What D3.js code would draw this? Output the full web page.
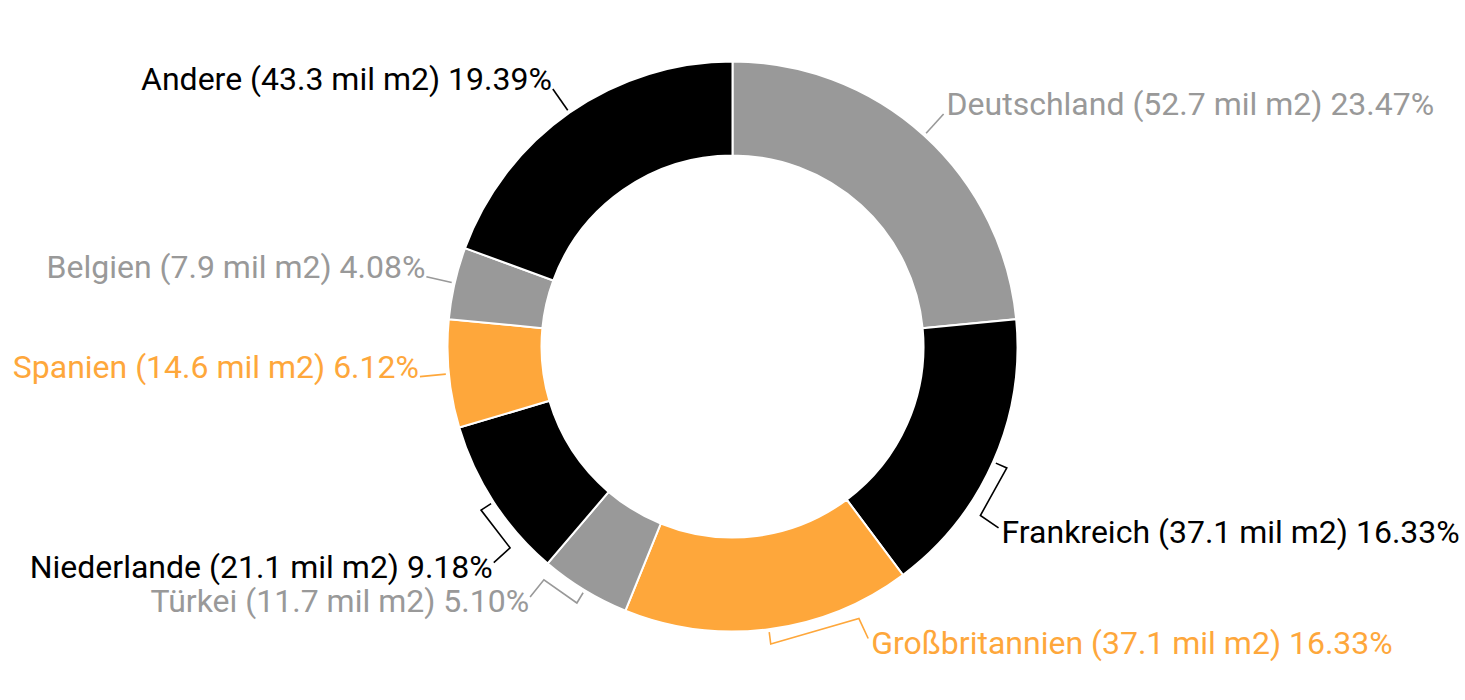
<!DOCTYPE html>
<html>
<head>
<meta charset="utf-8">
<script src="https://cdn.jsdelivr.net/npm/d3@7"></script>
<style>
  html, body { margin: 0; padding: 0; background: #ffffff; }
  svg { display: block; }
  text { font-family: Roboto, "Noto Sans", sans-serif; }
</style>
</head>
<body>
<svg id="chart" width="1465" height="700"></svg>
<script>
// ---- data ----
const categories = ["Deutschland", "Frankreich", "Großbritannien", "Türkei", "Niederlande", "Spanien", "Belgien", "Andere"];
const areaMilM2 = [52.7, 37.1, 37.1, 11.7, 21.1, 14.6, 7.9, 43.3];
const percents = [23.47, 16.33, 16.33, 5.10, 9.18, 6.12, 4.08, 19.39];

// ---- styles / layout (not data) ----
const palette = ["#999999", "#000000", "#FEA73B", "#999999", "#000000", "#FEA73B", "#999999", "#000000"];
const labelShiftDeg = [0, 10.4, -17.6, 7.7, -9.1, 0, 0, 0]; // label displacement to avoid overlap
const W = 1465, H = 700;
const cx = 732.5, cy = 346.5;
const outerR = 285, innerR = 191;
const fontSize = 32;

const svg = d3.select("#chart");
const g = svg.append("g").attr("transform", `translate(${cx},${cy})`);

const data = categories.map((c, i) => ({ name: c, value: areaMilM2[i], pct: percents[i], color: palette[i], shift: labelShiftDeg[i] }));

const pie = d3.pie().sort(null).value(d => d.pct);
const arcs = pie(data);
const arc = d3.arc().innerRadius(innerR).outerRadius(outerR);

g.selectAll("path.slice")
  .data(arcs)
  .join("path")
  .attr("class", "slice")
  .attr("d", arc)
  .attr("fill", d => d.data.color)
  .attr("stroke", "#ffffff")
  .attr("stroke-width", 2);

const polar = (r, a) => [r * Math.sin(a), -r * Math.cos(a)];
const rad = deg => deg * Math.PI / 180;

const line = d3.line();
arcs.forEach(d => {
  const mid = (d.startAngle + d.endAngle) / 2;
  const la = mid + rad(d.data.shift);
  const shifted = Math.abs(d.data.shift) > 0.01;
  let pts;
  if (shifted) {
    pts = [polar(outerR + 3, mid), polar(outerR + 15, mid), polar(outerR + 15, la), polar(outerR + 37, la)];
  } else {
    pts = [polar(outerR + 3, mid), polar(outerR + 29, mid)];
  }
  g.append("path")
    .attr("d", line(pts))
    .attr("fill", "none")
    .attr("stroke", d.data.color)
    .attr("stroke-width", 1.6);

  const end = pts[pts.length - 1];
  const right = Math.sin(la) > 0;
  const dy = Math.cos(la) < -0.4 ? 4 : -10;
  g.append("text")
    .attr("x", end[0] + (right ? 3 : -1))
    .attr("y", end[1] + dy)
    .attr("dy", "0.35em")
    .attr("text-anchor", right ? "start" : "end")
    .attr("fill", d.data.color)
    .attr("font-size", fontSize)
    .text(`${d.data.name} (${d.data.value.toFixed(1)} mil m2) ${d.data.pct.toFixed(2)}%`);
});
</script>
</body>
</html>
